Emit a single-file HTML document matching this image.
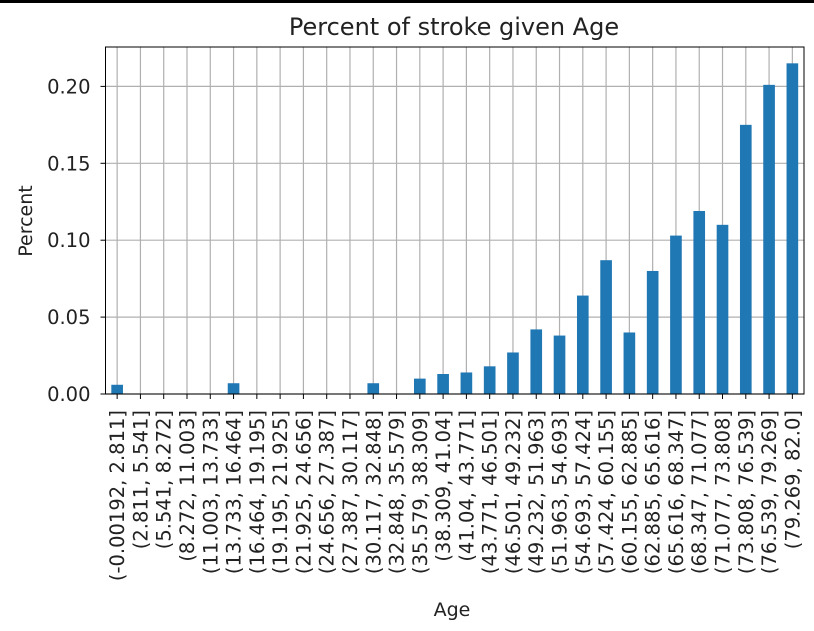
<!DOCTYPE html>
<html><head><meta charset="utf-8"><style>
body{margin:0;background:#fff;}
svg{display:block;font-family:"DejaVu Sans","Liberation Sans",sans-serif;}
</style></head><body>
<svg id="chart" width="814" height="631">
<rect x="0" y="0" width="814" height="3" fill="#000"/>
<text x="454" y="35" font-size="24" text-anchor="middle" fill="#222">Percent of stroke given Age</text>
<text x="0" y="0" font-size="19" text-anchor="middle" fill="#222" transform="translate(32,221) rotate(-90)">Percent</text>
<text x="452" y="616" font-size="19" text-anchor="middle" fill="#222">Age</text>
<g id="grid"></g><g id="bars"></g><g id="axes"></g>
</svg>
<script>
const categories=["(-0.00192, 2.811]","(2.811, 5.541]","(5.541, 8.272]","(8.272, 11.003]","(11.003, 13.733]","(13.733, 16.464]","(16.464, 19.195]","(19.195, 21.925]","(21.925, 24.656]","(24.656, 27.387]","(27.387, 30.117]","(30.117, 32.848]","(32.848, 35.579]","(35.579, 38.309]","(38.309, 41.04]","(41.04, 43.771]","(43.771, 46.501]","(46.501, 49.232]","(49.232, 51.963]","(51.963, 54.693]","(54.693, 57.424]","(57.424, 60.155]","(60.155, 62.885]","(62.885, 65.616]","(65.616, 68.347]","(68.347, 71.077]","(71.077, 73.808]","(73.808, 76.539]","(76.539, 79.269]","(79.269, 82.0]"];
const values=[0.006,0,0,0,0,0.007,0,0,0,0,0,0.007,0,0.010,0.013,0.014,0.018,0.027,0.042,0.038,0.064,0.087,0.040,0.080,0.103,0.119,0.110,0.175,0.201,0.215];
const yTicks=[0,0.05,0.10,0.15,0.20];
const yTickLabels=["0.00","0.05","0.10","0.15","0.20"];
const NS="http://www.w3.org/2000/svg";
const L=105.5,R=804,T=47,B=394,yMax=(B-T)/1538;
const band=(R-L)/categories.length;
const x=i=>L+(i+0.5)*band;
const y=v=>B-(v/yMax)*(B-T);
function mk(tag,attrs,parent){const e=document.createElementNS(NS,tag);for(const k in attrs)e.setAttribute(k,attrs[k]);parent.appendChild(e);return e;}
const grid=document.getElementById('grid'),bars=document.getElementById('bars'),axes=document.getElementById('axes');
categories.forEach((c,i)=>{
 const g=mk('line',{x1:x(i),x2:x(i),y1:T,y2:B,stroke:'#b0b0b0','stroke-width':1.2},grid);
 
 
});
yTicks.forEach((t,i)=>{
 const g=mk('line',{x1:L,x2:R,y1:y(t),y2:y(t),stroke:'#b0b0b0','stroke-width':1.2},grid);
 
 
 const tk=mk('line',{x1:L-5,x2:L,y1:y(t),y2:y(t),stroke:'#000','stroke-width':1},axes);
 
 
 const tx=mk('text',{x:L-15,y:y(t)+7,'font-size':19.5,'text-anchor':'end',fill:'#222'},axes);
 tx.textContent=yTickLabels[i];
 
 
});
values.forEach((v,i)=>{
 const w=band*0.5;
 const r=mk('rect',{x:x(i)-w/2,y:y(v),width:w,height:B-y(v),fill:'#1f77b4'},bars);
 
 
});
categories.forEach((c,i)=>{
 const tk=mk('line',{x1:x(i),x2:x(i),y1:B,y2:B+5,stroke:'#000','stroke-width':1},axes);
 
 
 const tx=mk('text',{x:0,y:0,'font-size':19.5,'text-anchor':'end',fill:'#222',transform:`translate(${x(i)+7},410) rotate(-90)`},axes);
 tx.textContent=c;
 
 
});
const fr=mk('rect',{x:L,y:T,width:R-L,height:B-T,fill:'none',stroke:'#000','stroke-width':1},axes);


</script>
</body></html>
